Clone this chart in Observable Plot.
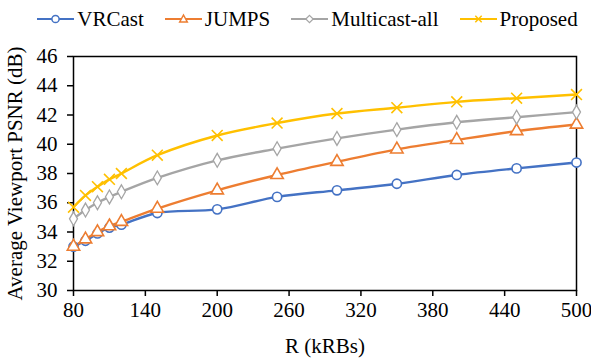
<!DOCTYPE html>
<html>
<head>
<meta charset="utf-8">
<script src="https://cdn.jsdelivr.net/npm/d3@7"></script>
<script src="https://cdn.jsdelivr.net/npm/@observablehq/plot@0.6"></script>
<style>
  body { margin: 0; background: #fff; font-family: "Liberation Serif", "DejaVu Serif", serif; }
  #legend { height: 38px; width: 591px; box-sizing: border-box; padding-left: 24px; display: flex; align-items: center; justify-content: center; gap: 21px; font-size: 21px; color: #000; }
  .item { display: flex; align-items: center; gap: 3px; }
  .item svg { display: block; }
  #chart svg text { font-family: "Liberation Serif", "DejaVu Serif", serif; }
</style>
</head>
<body>
<div id="legend"></div>
<div id="chart"></div>
<script>
const rValues = [80, 90, 100, 110, 120, 150, 200, 250, 300, 350, 400, 450, 500];
const vrcast = [33.0, 33.4, 33.9, 34.3, 34.5, 35.3, 35.55, 36.4, 36.85, 37.3, 37.9, 38.35, 38.75];
const jumps = [33.0, 33.5, 34.0, 34.4, 34.7, 35.6, 36.85, 37.9, 38.8, 39.65, 40.3, 40.9, 41.35];
const multicastAll = [34.9, 35.5, 36.0, 36.4, 36.75, 37.7, 38.9, 39.7, 40.4, 41.0, 41.5, 41.85, 42.2];
const proposed = [35.7, 36.5, 37.1, 37.6, 38.0, 39.25, 40.6, 41.45, 42.1, 42.5, 42.9, 43.15, 43.4];
const seriesNames = ["VRCast", "JUMPS", "Multicast-all", "Proposed"];
const seriesColors = ["#4472C4", "#ED7D31", "#A5A5A5", "#FFC000"];
const seriesSymbols = ["circle", "triangle", "diamond", "times"];
const xTicks = [80, 140, 200, 260, 320, 380, 440, 500];
const yTicks = [30, 32, 34, 36, 38, 40, 42, 44, 46];
const xLabel = "R (kRBs)";
const yLabel = "Average Viewport PSNR (dB)";

const allValues = [vrcast, jumps, multicastAll, proposed];
const data = [];
seriesNames.forEach((name, i) => {
  rValues.forEach((r, j) => data.push({series: name, r, v: allValues[i][j]}));
});

// Legend
const legend = document.getElementById("legend");
seriesNames.forEach((name, i) => {
  const c = seriesColors[i];
  let marker = "";
  if (seriesSymbols[i] === "circle") marker = `<circle cx="18.5" cy="10" r="3.6" fill="#fff" stroke="${c}" stroke-width="1.5"/>`;
  if (seriesSymbols[i] === "triangle") marker = `<path d="M18.5,6 L22.3,13 L14.7,13 Z" fill="#fff" stroke="${c}" stroke-width="1.5"/>`;
  if (seriesSymbols[i] === "diamond") marker = `<path d="M18.5,6.3 L22.2,10 L18.5,13.7 L14.8,10 Z" fill="#fff" stroke="${c}" stroke-width="1.2"/>`;
  if (seriesSymbols[i] === "times") marker = `<path d="M15.3,6.8 L21.7,13.2 M21.7,6.8 L15.3,13.2" stroke="${c}" stroke-width="1.5"/>`;
  const div = document.createElement("div");
  div.className = "item";
  div.innerHTML = `<svg width="37" height="20"><line x1="0" y1="10" x2="37" y2="10" stroke="${c}" stroke-width="2.2"/>${marker}</svg><span>${name}</span>`;
  legend.appendChild(div);
});

const color = {domain: seriesNames, range: seriesColors};

const plot = Plot.plot({
  width: 591,
  height: 320,
  marginTop: 18,
  marginBottom: 68,
  marginLeft: 73,
  marginRight: 15,
  style: {fontFamily: "'Liberation Serif', 'DejaVu Serif', serif", fontSize: "21px", color: "#000", background: "#fff"},
  x: {domain: [80, 500]},
  y: {domain: [30, 46]},
  color,
  symbol: {domain: seriesNames, range: seriesSymbols},
  marks: [
    Plot.axisX({ticks: xTicks, tickSize: 6, tickPadding: 6, strokeWidth: 1.5, label: xLabel, labelAnchor: "center", labelArrow: "none", labelOffset: 62, fontSize: 21}),
    Plot.axisY({ticks: yTicks, tickSize: 6, tickPadding: 10, strokeWidth: 1.5, label: yLabel, labelAnchor: "center", labelArrow: "none", labelOffset: 66, fontSize: 21}),
    Plot.frame({stroke: "#000", strokeWidth: 1.5}),
    Plot.line(data, {x: "r", y: "v", z: "series", stroke: "series", strokeWidth: 2.4, curve: "catmull-rom"}),
    Plot.dot(data.filter(d => d.series === "VRCast"), {x: "r", y: "v", symbol: "circle", r: 4.6, fill: "#fff", stroke: "series", strokeWidth: 1.6}),
    Plot.dot(data.filter(d => d.series === "JUMPS"), {x: "r", y: "v", symbol: "triangle", r: 4.6, fill: "#fff", stroke: "series", strokeWidth: 1.6}),
    Plot.dot(data.filter(d => d.series === "Multicast-all"), {x: "r", y: "v", symbol: "diamond", r: 4.2, fill: "#fff", stroke: "series", strokeWidth: 1.3}),
    Plot.dot(data.filter(d => d.series === "Proposed"), {x: "r", y: "v", symbol: "times", r: 5, stroke: "series", strokeWidth: 1.6})
  ]
});
document.getElementById("chart").appendChild(plot);
</script>
</body>
</html>
